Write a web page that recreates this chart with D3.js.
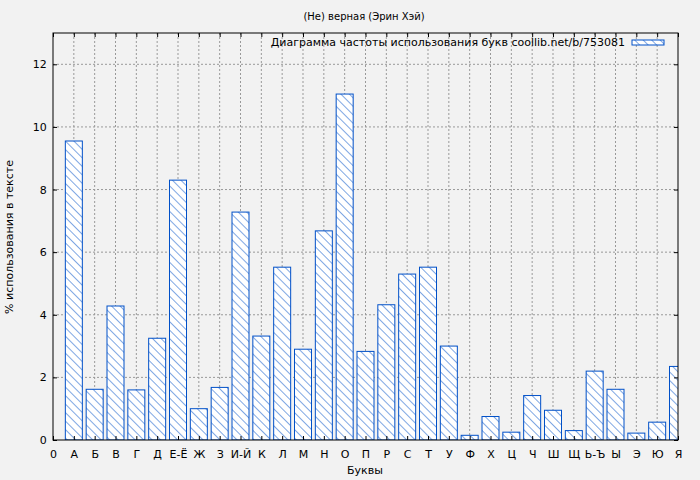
<!DOCTYPE html>
<html><head><meta charset="utf-8">
<script src="https://cdn.jsdelivr.net/npm/d3@7"></script>
<style>body{margin:0;background:#f2f2f2}text{font-family:"DejaVu Sans",sans-serif}</style>
</head><body><svg id="c" width="700" height="480"></svg>
<script>
var letters = ['А','Б','В','Г','Д','Е-Ё','Ж','З','И-Й','К','Л','М','Н','О','П','Р','С','Т','У','Ф','Х','Ц','Ч','Ш','Щ','Ь-Ъ','Ы','Э','Ю','Я'];
var percents = [9.55,1.62,4.28,1.6,3.25,8.3,1.0,1.68,7.28,3.32,5.52,2.9,6.68,11.05,2.83,4.32,5.3,5.52,3.0,0.15,0.75,0.25,1.42,0.95,0.3,2.2,1.62,0.22,0.57,2.35];
var yTicks = [0,2,4,6,8,10,12];

var svg = d3.select('#c');
var m = {l:53, r:678, t:33, b:440};
var x = d3.scaleLinear().domain([0,30]).range([m.l,m.r]);
var y = d3.scaleLinear().domain([0,13]).range([m.b,m.t]);

var defs = svg.append('defs');
var p = defs.append('pattern').attr('id','h').attr('patternUnits','userSpaceOnUse')
  .attr('width',6).attr('height',6).attr('patternTransform','rotate(-45)');
p.append('rect').attr('width',6).attr('height',6).attr('fill','#fff');
p.append('line').attr('x1',0).attr('y1',0).attr('x2',0).attr('y2',6).attr('stroke','#0050c8').attr('stroke-width',1);
defs.append('clipPath').attr('id','cp').append('rect').attr('x',m.l).attr('y',m.t).attr('width',m.r-m.l).attr('height',m.b-m.t);

svg.append('rect').attr('x',m.l).attr('y',m.t).attr('width',m.r-m.l).attr('height',m.b-m.t).attr('fill','#f2f2f2');

var g = svg.append('g');
d3.range(1,30).forEach(function(i){
  g.append('line').attr('x1',x(i)).attr('x2',x(i)).attr('y1',m.t).attr('y2',m.b).attr('stroke','#999').attr('stroke-dasharray','2,2');
});
yTicks.slice(1).forEach(function(v){
  g.append('line').attr('x1',m.l).attr('x2',m.r).attr('y1',y(v)).attr('y2',y(v)).attr('stroke','#999').attr('stroke-dasharray','2,2');
});

svg.append('g').attr('clip-path','url(#cp)').selectAll('rect').data(percents).enter().append('rect')
  .attr('x',function(d,i){return x(i+1)-8.5;}).attr('width',17)
  .attr('y',function(d){return y(d);}).attr('height',function(d){return y(0)-y(d);})
  .attr('fill','url(#h)').attr('stroke','#0050c8').attr('stroke-width',1);

svg.append('rect').attr('x',m.l).attr('y',m.t).attr('width',m.r-m.l).attr('height',m.b-m.t).attr('fill','none').attr('stroke','#000');

var xa = svg.append('g').attr('transform','translate(0,'+m.b+')')
  .call(d3.axisBottom(x).ticks(30).tickSize(-4).tickFormat(function(d){return d===0?'0':letters[d-1];}));
var ya = svg.append('g').attr('transform','translate('+m.l+',0)')
  .call(d3.axisLeft(y).tickValues(yTicks).tickSize(-4));
[xa,ya].forEach(function(a){a.select('.domain').remove();a.selectAll('text').attr('font-size',11).attr('fill','#000').attr('font-family','DejaVu Sans');});
xa.selectAll('text').attr('dy','1.4em');
ya.selectAll('text').attr('dx','-0.3em');
svg.append('g').attr('transform','translate(0,'+m.t+')').call(d3.axisBottom(x).ticks(30).tickSize(4).tickFormat('')).select('.domain').remove();
svg.append('g').attr('transform','translate('+m.r+',0)').call(d3.axisRight(y).tickValues(yTicks).tickSize(-4).tickFormat('')).select('.domain').remove();

svg.append('text').attr('x',364).attr('y',20).attr('text-anchor','middle').attr('font-size',10).text('(Не) верная (Эрин Хэй)');
svg.append('text').attr('x',365).attr('y',474).attr('text-anchor','middle').attr('font-size',11).text('Буквы');
svg.append('text').attr('transform','translate(13,237) rotate(-90)').attr('text-anchor','middle').attr('font-size',11).text('% использования в тексте');
svg.append('text').attr('x',625).attr('y',46).attr('text-anchor','end').attr('font-size',11).text('Диаграмма частоты использования букв coollib.net/b/753081');
svg.append('rect').attr('x',632).attr('y',40).attr('width',32).attr('height',5).attr('fill','url(#h)').attr('stroke','#0050c8');
</script></body></html>
